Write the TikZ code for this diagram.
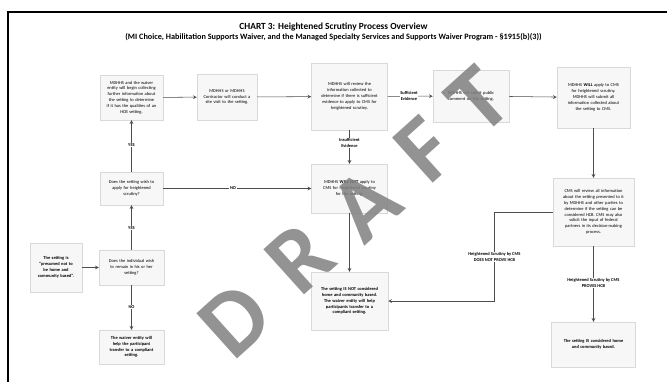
\documentclass[tikz,border=0pt]{standalone}
\usepackage{fontspec}
\setmainfont{Carlito}
\usetikzlibrary{shadows}

\begin{document}
\begin{tikzpicture}[
    x=0.03cm, y=-0.03cm,
    box/.style={draw=gray!30, fill=gray!6, align=center, inner sep=0.05cm,
        font=\fontsize{3.8}{5}\selectfont,
        drop shadow={opacity=0.15, shadow xshift=0.6pt, shadow yshift=-0.6pt}},
    lbl/.style={fill=white, inner sep=0.6pt, align=center, font=\fontsize{3.8}{5}\selectfont\bfseries},
    flow/.style={->, draw=gray!60!black, line width=0.45pt},
    wm/.style={rotate=42, text=gray, opacity=0.85, font=\fontsize{80}{80}\selectfont\bfseries},
    >=stealth
]
\useasboundingbox (0,0) rectangle (667,382);
\draw[line width=2.2pt] (8,382) -- (8,12) -- (667,12);

\node[font=\fontsize{8}{9}\selectfont\bfseries] (title) at (333.5,27) {CHART 3: Heightened Scrutiny Process Overview};
\node[font=\fontsize{7}{8}\selectfont\bfseries] (subtitle) at (333.5,37) {(MI Choice, Habilitation Supports Waiver, and the Managed Specialty Services and Supports Waiver Program - §1915(b)(3))};

\node[box, text width=1.79cm, minimum height=1.35cm] (collect) at (131.5,97.5) {MDHHS and the waiver\\entity will begin collecting\\further information about\\the setting to determine\\if it has the qualities of an\\HCB setting.};
\node[box, text width=1.70cm, minimum height=1.38cm] (visit) at (227,97) {MDHHS or MDHHS\\Contractor will conduct a\\site visit to the setting.};
\node[box, text width=2.18cm, minimum height=2.01cm] (review) at (349.5,96.5) {MDHHS will review the\\information collected to\\determine if there is sufficient\\evidence to apply to CMS for\\heightened scrutiny.};
\node[box, text width=2.18cm, minimum height=1.56cm] (comment) at (471,96) {MDHHS will solicit public\\comment on the setting.};
\node[box, text width=2.09cm, minimum height=1.83cm] (apply) at (593.5,97.5) {MDHHS \textbf{WILL} apply to CMS\\for heightened scrutiny.\\MDHHS will submit all\\information collected about\\the setting to CMS.};
\node[box, text width=1.79cm, minimum height=0.99cm] (wish) at (131.5,188.5) {Does the setting wish to\\apply for heightened\\scrutiny?};
\node[box, text width=2.18cm, minimum height=1.47cm] (noapply) at (349.5,188.5) {MDHHS \textbf{WILL NOT} apply to\\CMS for heightened scrutiny\\for the setting.};
\node[box, text width=2.21cm, minimum height=1.74cm, font=\fontsize{3.8}{5}\selectfont\bfseries] (nothcb) at (349.5,301) {The setting IS NOT considered\\home and community based.\\The waiver entity will help\\participants transfer to a\\compliant setting.};
\node[box, text width=2.33cm, minimum height=2.04cm] (cms) at (593.5,212) {CMS will review all information\\about the setting presented to it\\by MDHHS and other parties to\\determine if the setting can be\\considered HCB. CMS may also\\solicit the input of federal\\partners in its decision-making\\process.};
\node[box, text width=2.42cm, minimum height=1.35cm, font=\fontsize{3.8}{5}\selectfont\bfseries] (ishcb) at (593.5,344.5) {The setting IS considered home\\and community based.};
\node[box, text width=1.46cm, minimum height=1.47cm, font=\fontsize{3.8}{5}\selectfont\bfseries] (presumed) at (56,267.5) {The setting is\\“presumed not to\\be home and\\community based”.};
\node[box, text width=1.85cm, minimum height=1.05cm] (remain) at (131.5,267.5) {Does the individual wish\\to remain in his or her\\setting?};
\node[box, text width=1.85cm, minimum height=1.02cm, font=\fontsize{3.8}{5}\selectfont\bfseries] (transfer) at (131.5,347) {The waiver entity will\\help the participant\\transfer to a compliant\\setting.};

\draw[flow] (presumed) -- (remain);
\draw[flow] (remain) -- (wish);
\draw[flow] (remain) -- (transfer);
\draw[flow] (wish) -- (collect);
\draw[flow] (wish) -- (noapply);
\draw[flow] (collect) -- (visit);
\draw[flow] (visit) -- (review);
\draw[flow] (review) -- (comment);
\draw[flow] (review) -- (noapply);
\draw[flow] (comment) -- (apply);
\draw[flow] (apply) -- (cms);
\draw[flow] (noapply) -- (nothcb);
\draw[flow] (cms.west) -- ++(-59,0) |- (nothcb.east);
\draw[flow] (cms) -- (ishcb);

\node[lbl] (yes1) at (131.5,228) {YES};
\node[lbl] (no1) at (131.5,307) {NO};
\node[lbl] (yes2) at (131.5,145) {YES};
\node[lbl] (no2) at (233,188.5) {NO};
\node[lbl] (suff) at (409,96) {Sufficient\\Evidence};
\node[lbl] (insuff) at (349.5,143) {Insufficient\\Evidence};
\node[lbl] (notprove) at (494.5,257) {Heightened Scrutiny by CMS\\DOES NOT PROVE HCB};
\node[lbl] (prove) at (593.5,283) {Heightened Scrutiny by CMS\\PROVES HCB};

\foreach \ch/\px/\py [count=\i] in {D/235/320, R/300/258, A/365/205, F/425/150, T/478/100}
  \node[wm] (wm\i) at (\px,\py) {\ch};
\end{tikzpicture}
\end{document}
